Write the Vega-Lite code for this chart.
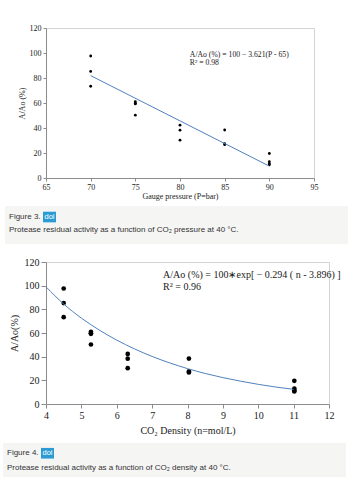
{
  "$schema": "https://vega.github.io/schema/vega-lite/v6.json",
  "background": "#ffffff",
  "padding": {"top": 23, "left": 3, "right": 0, "bottom": 0},
  "datasets": {
    "pressure": [
      {"P": 70, "A": 97.6}, {"P": 70, "A": 85.3}, {"P": 70, "A": 73.4},
      {"P": 75, "A": 61.0}, {"P": 75, "A": 59.8}, {"P": 75, "A": 59.3}, {"P": 75, "A": 50.3},
      {"P": 80, "A": 42.3}, {"P": 80, "A": 38.3}, {"P": 80, "A": 30.3},
      {"P": 85, "A": 38.4}, {"P": 85, "A": 27.5}, {"P": 85, "A": 26.7},
      {"P": 90, "A": 19.6}, {"P": 90, "A": 13.0}, {"P": 90, "A": 11.5}, {"P": 90, "A": 10.6}
    ],
    "pressureFit": [
      {"P": 70, "A": 81.9}, {"P": 90, "A": 9.5}
    ],
    "pressureNote": [
      {"eq": "A/Ao (%) = 100 − 3.621(P - 65)", "r2": "R² = 0.98"}
    ],
    "density": [
      {"n": 4.5, "A": 97.6}, {"n": 4.5, "A": 85.3}, {"n": 4.5, "A": 73.4},
      {"n": 5.27, "A": 61.0}, {"n": 5.27, "A": 59.8}, {"n": 5.27, "A": 59.3}, {"n": 5.27, "A": 50.3},
      {"n": 6.31, "A": 42.3}, {"n": 6.31, "A": 38.3}, {"n": 6.31, "A": 30.3},
      {"n": 8.04, "A": 38.4}, {"n": 8.04, "A": 27.5}, {"n": 8.04, "A": 26.7},
      {"n": 11.02, "A": 19.6}, {"n": 11.02, "A": 13.0}, {"n": 11.02, "A": 11.5}, {"n": 11.02, "A": 10.6}
    ],
    "densityFit": [
      {"n": 4.0, "A": 99.0}, {"n": 4.5, "A": 84.5}, {"n": 5.0, "A": 72.6}, {"n": 5.5, "A": 62.6},
      {"n": 6.0, "A": 54.0}, {"n": 6.5, "A": 46.6}, {"n": 7.0, "A": 40.2}, {"n": 7.5, "A": 34.7},
      {"n": 8.0, "A": 29.9}, {"n": 8.5, "A": 25.8}, {"n": 9.0, "A": 22.3}, {"n": 9.5, "A": 19.3},
      {"n": 10.0, "A": 16.6}, {"n": 10.5, "A": 14.3}, {"n": 11.0, "A": 12.4}
    ],
    "densityNote": [
      {"eq": "A/Ao (%) = 100∗exp[ − 0.294 ( n - 3.896) ]", "r2": "R² = 0.96"}
    ],
    "cap3": [{"fig": "Figure 3.", "badge": "doi", "caption": "Protease residual activity as a function of CO₂ pressure at 40 °C."}],
    "cap4": [{"fig": "Figure 4.", "badge": "doi", "caption": "Protease residual activity as a function of CO₂ density at 40 °C."}]
  },
  "config": {
    "view": {"stroke": "#d4d4d4", "strokeWidth": 1},
    "axis": {
      "grid": false,
      "labelOverlap": false,
      "labelFlush": false,
      "domainColor": "#8c8c8c",
      "tickColor": "#8c8c8c",
      "labelColor": "#1a1a1a",
      "titleColor": "#1a1a1a",
      "labelFont": "Liberation Serif",
      "titleFont": "Liberation Serif",
      "titleFontWeight": "normal"
    }
  },
  "vconcat": [
    {
      "spacing": 5,
      "vconcat": [
        {
          "width": 268,
          "height": 150,
          "layer": [
            {
              "data": {"name": "pressure"},
              "mark": {"type": "circle", "color": "#000000", "opacity": 1, "size": 8},
              "encoding": {
                "x": {"field": "P", "type": "quantitative", "scale": {"domain": [65, 95], "nice": false, "zero": false},
                  "axis": {"values": [65, 70, 75, 80, 85, 90, 95], "title": "Gauge pressure (P=bar)", "labelFontSize": 8, "titleFontSize": 8, "tickSize": 3, "labelPadding": 2, "titlePadding": 1, "labelOverlap": false}},
                "y": {"field": "A", "type": "quantitative", "scale": {"domain": [0, 120], "nice": false},
                  "axis": {"values": [0, 20, 40, 60, 80, 100, 120], "title": "A/Ao (%)", "labelFontSize": 8, "titleFontSize": 8, "tickSize": 3, "labelPadding": 2, "titlePadding": 3, "labelOverlap": false}}
              }
            },
            {
              "data": {"name": "pressureFit"},
              "mark": {"type": "line", "color": "#4f81bd", "strokeWidth": 1},
              "encoding": {
                "x": {"field": "P", "type": "quantitative", "scale": {"domain": [65, 95], "nice": false, "zero": false},
                  "axis": {"values": [65, 70, 75, 80, 85, 90, 95], "title": "Gauge pressure (P=bar)", "labelFontSize": 8, "titleFontSize": 8, "tickSize": 3, "labelPadding": 2, "titlePadding": 1, "labelOverlap": false}},
                "y": {"field": "A", "type": "quantitative", "scale": {"domain": [0, 120], "nice": false},
                  "axis": {"values": [0, 20, 40, 60, 80, 100, 120], "title": "A/Ao (%)", "labelFontSize": 8, "titleFontSize": 8, "tickSize": 3, "labelPadding": 2, "titlePadding": 3, "labelOverlap": false}}
              }
            },
            {
              "data": {"name": "pressureNote"},
              "mark": {"type": "text", "align": "left", "baseline": "middle", "font": "Liberation Serif", "fontSize": 7.7, "color": "#1a1a1a"},
              "encoding": {
                "x": {"datum": 81.1, "type": "quantitative", "scale": {"domain": [65, 95], "nice": false, "zero": false},
                  "axis": {"values": [65, 70, 75, 80, 85, 90, 95], "title": "Gauge pressure (P=bar)", "labelFontSize": 8, "titleFontSize": 8, "tickSize": 3, "labelPadding": 2, "titlePadding": 1, "labelOverlap": false}},
                "y": {"datum": 98.8, "type": "quantitative", "scale": {"domain": [0, 120], "nice": false},
                  "axis": {"values": [0, 20, 40, 60, 80, 100, 120], "title": "A/Ao (%)", "labelFontSize": 8, "titleFontSize": 8, "tickSize": 3, "labelPadding": 2, "titlePadding": 3, "labelOverlap": false}},
                "text": {"field": "eq"}
              }
            },
            {
              "data": {"name": "pressureNote"},
              "mark": {"type": "text", "align": "left", "baseline": "middle", "font": "Liberation Serif", "fontSize": 7.7, "color": "#1a1a1a"},
              "encoding": {
                "x": {"datum": 81.1, "type": "quantitative", "scale": {"domain": [65, 95], "nice": false, "zero": false},
                  "axis": {"values": [65, 70, 75, 80, 85, 90, 95], "title": "Gauge pressure (P=bar)", "labelFontSize": 8, "titleFontSize": 8, "tickSize": 3, "labelPadding": 2, "titlePadding": 1, "labelOverlap": false}},
                "y": {"datum": 92.3, "type": "quantitative", "scale": {"domain": [0, 120], "nice": false},
                  "axis": {"values": [0, 20, 40, 60, 80, 100, 120], "title": "A/Ao (%)", "labelFontSize": 8, "titleFontSize": 8, "tickSize": 3, "labelPadding": 2, "titlePadding": 3, "labelOverlap": false}},
                "text": {"field": "r2"}
              }
            }
          ]
        },
        {
          "width": 302,
          "height": 38,
          "data": {"name": "cap3"},
          "view": {"fill": null, "stroke": null},
          "layer": [
            {
              "mark": {"type": "rect", "color": "#f5f5f3", "clip": false},
              "encoding": {
                "x": {"datum": -0.1358, "type": "quantitative", "scale": {"domain": [0, 1]}, "axis": null},
                "x2": {"datum": 1},
                "y": {"datum": 0, "type": "quantitative", "scale": {"domain": [0, 1], "reverse": true}, "axis": null},
                "y2": {"datum": 1}
              }
            },
            {
              "mark": {"type": "rect", "color": "#2c9bd4"},
              "encoding": {
                "x": {"datum": -0.0099, "type": "quantitative", "axis": null},
                "x2": {"datum": 0.0331},
                "y": {"datum": 0.15, "type": "quantitative", "axis": null},
                "y2": {"datum": 0.43}
              }
            },
            {
              "mark": {"type": "text", "align": "left", "baseline": "middle", "font": "Liberation Sans", "fontSize": 8, "color": "#333333"},
              "encoding": {
                "x": {"datum": -0.1225, "type": "quantitative", "axis": null},
                "y": {"datum": 0.29, "type": "quantitative", "axis": null},
                "text": {"field": "fig"}
              }
            },
            {
              "mark": {"type": "text", "align": "center", "baseline": "middle", "font": "Liberation Sans", "fontSize": 7.5, "color": "#ffffff"},
              "encoding": {
                "x": {"datum": 0.0116, "type": "quantitative", "axis": null},
                "y": {"datum": 0.29, "type": "quantitative", "axis": null},
                "text": {"field": "badge"}
              }
            },
            {
              "mark": {"type": "text", "align": "left", "baseline": "middle", "font": "Liberation Sans", "fontSize": 8, "color": "#333333"},
              "encoding": {
                "x": {"datum": -0.1225, "type": "quantitative", "axis": null},
                "y": {"datum": 0.63, "type": "quantitative", "axis": null},
                "text": {"field": "caption"}
              }
            }
          ]
        }
      ]
    },
    {
      "spacing": 7,
      "vconcat": [
        {
          "width": 283,
          "height": 142,
          "layer": [
            {
              "data": {"name": "density"},
              "mark": {"type": "circle", "color": "#000000", "opacity": 1, "size": 22},
              "encoding": {
                "x": {"field": "n", "type": "quantitative", "scale": {"domain": [4, 12], "nice": false, "zero": false},
                  "axis": {"values": [4, 5, 6, 7, 8, 9, 10, 11, 12], "title": "CO₂ Density (n=mol/L)", "labelFontSize": 10, "titleFontSize": 10, "tickSize": 4, "labelPadding": 2, "titlePadding": 5, "labelOverlap": false}},
                "y": {"field": "A", "type": "quantitative", "scale": {"domain": [0, 120], "nice": false},
                  "axis": {"values": [0, 20, 40, 60, 80, 100, 120], "title": "A/Ao(%)", "labelFontSize": 10, "titleFontSize": 10, "tickSize": 5, "labelPadding": 2, "titlePadding": 5, "labelOverlap": false}}
              }
            },
            {
              "data": {"name": "densityFit"},
              "mark": {"type": "line", "color": "#4f81bd", "strokeWidth": 1, "interpolate": "monotone"},
              "encoding": {
                "x": {"field": "n", "type": "quantitative", "scale": {"domain": [4, 12], "nice": false, "zero": false},
                  "axis": {"values": [4, 5, 6, 7, 8, 9, 10, 11, 12], "title": "CO₂ Density (n=mol/L)", "labelFontSize": 10, "titleFontSize": 10, "tickSize": 4, "labelPadding": 2, "titlePadding": 5, "labelOverlap": false}},
                "y": {"field": "A", "type": "quantitative", "scale": {"domain": [0, 120], "nice": false},
                  "axis": {"values": [0, 20, 40, 60, 80, 100, 120], "title": "A/Ao(%)", "labelFontSize": 10, "titleFontSize": 10, "tickSize": 5, "labelPadding": 2, "titlePadding": 5, "labelOverlap": false}}
              }
            },
            {
              "data": {"name": "densityNote"},
              "mark": {"type": "text", "align": "left", "baseline": "middle", "font": "Liberation Serif", "fontSize": 10, "color": "#1a1a1a"},
              "encoding": {
                "x": {"datum": 7.31, "type": "quantitative", "scale": {"domain": [4, 12], "nice": false, "zero": false},
                  "axis": {"values": [4, 5, 6, 7, 8, 9, 10, 11, 12], "title": "CO₂ Density (n=mol/L)", "labelFontSize": 10, "titleFontSize": 10, "tickSize": 4, "labelPadding": 2, "titlePadding": 5, "labelOverlap": false}},
                "y": {"datum": 109.3, "type": "quantitative", "scale": {"domain": [0, 120], "nice": false},
                  "axis": {"values": [0, 20, 40, 60, 80, 100, 120], "title": "A/Ao(%)", "labelFontSize": 10, "titleFontSize": 10, "tickSize": 5, "labelPadding": 2, "titlePadding": 5, "labelOverlap": false}},
                "text": {"field": "eq"}
              }
            },
            {
              "data": {"name": "densityNote"},
              "mark": {"type": "text", "align": "left", "baseline": "middle", "font": "Liberation Serif", "fontSize": 10, "color": "#1a1a1a"},
              "encoding": {
                "x": {"datum": 7.31, "type": "quantitative", "scale": {"domain": [4, 12], "nice": false, "zero": false},
                  "axis": {"values": [4, 5, 6, 7, 8, 9, 10, 11, 12], "title": "CO₂ Density (n=mol/L)", "labelFontSize": 10, "titleFontSize": 10, "tickSize": 4, "labelPadding": 2, "titlePadding": 5, "labelOverlap": false}},
                "y": {"datum": 99.2, "type": "quantitative", "scale": {"domain": [0, 120], "nice": false},
                  "axis": {"values": [0, 20, 40, 60, 80, 100, 120], "title": "A/Ao(%)", "labelFontSize": 10, "titleFontSize": 10, "tickSize": 5, "labelPadding": 2, "titlePadding": 5, "labelOverlap": false}},
                "text": {"field": "r2"}
              }
            }
          ]
        },
        {
          "width": 300,
          "height": 38,
          "data": {"name": "cap4"},
          "view": {"fill": null, "stroke": null},
          "layer": [
            {
              "mark": {"type": "rect", "color": "#f5f5f3", "clip": false},
              "encoding": {
                "x": {"datum": -0.1433, "type": "quantitative", "scale": {"domain": [0, 1]}, "axis": null},
                "x2": {"datum": 1},
                "y": {"datum": 0, "type": "quantitative", "scale": {"domain": [0, 1], "reverse": true}, "axis": null},
                "y2": {"datum": 1}
              }
            },
            {
              "mark": {"type": "rect", "color": "#2c9bd4"},
              "encoding": {
                "x": {"datum": -0.0167, "type": "quantitative", "axis": null},
                "x2": {"datum": 0.0267},
                "y": {"datum": 0.13, "type": "quantitative", "axis": null},
                "y2": {"datum": 0.41}
              }
            },
            {
              "mark": {"type": "text", "align": "left", "baseline": "middle", "font": "Liberation Sans", "fontSize": 8, "color": "#333333"},
              "encoding": {
                "x": {"datum": -0.13, "type": "quantitative", "axis": null},
                "y": {"datum": 0.27, "type": "quantitative", "axis": null},
                "text": {"field": "fig"}
              }
            },
            {
              "mark": {"type": "text", "align": "center", "baseline": "middle", "font": "Liberation Sans", "fontSize": 7.5, "color": "#ffffff"},
              "encoding": {
                "x": {"datum": 0.005, "type": "quantitative", "axis": null},
                "y": {"datum": 0.27, "type": "quantitative", "axis": null},
                "text": {"field": "badge"}
              }
            },
            {
              "mark": {"type": "text", "align": "left", "baseline": "middle", "font": "Liberation Sans", "fontSize": 8, "color": "#333333"},
              "encoding": {
                "x": {"datum": -0.13, "type": "quantitative", "axis": null},
                "y": {"datum": 0.67, "type": "quantitative", "axis": null},
                "text": {"field": "caption"}
              }
            }
          ]
        }
      ]
    }
  ],
  "spacing": 12,
  "align": "none",
  "bounds": "full"
}
